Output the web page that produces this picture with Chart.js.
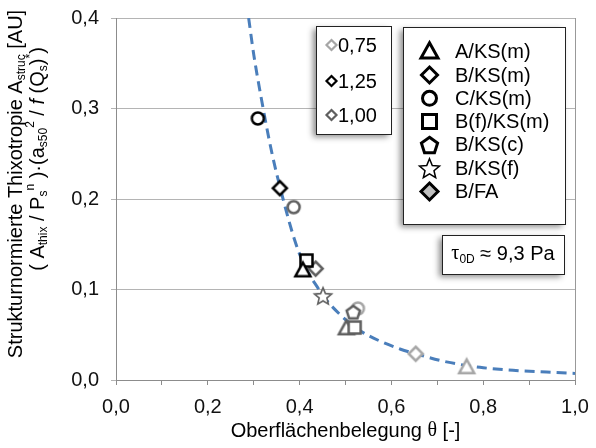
<!DOCTYPE html>
<html>
<head>
<meta charset="utf-8">
<script src="https://cdn.jsdelivr.net/npm/chart.js@4.4.0/dist/chart.umd.min.js"></script>
<style>
    html, body { margin: 0; padding: 0; background: #fff; }
</style>
</head>
<body>
<canvas id="chart" width="596" height="448"></canvas>
<script>
// series (colour = group in the small legend)
const seriesLabels = ['0,75', '1,25', '1,00'];
const seriesColors = ['#a6a6a6', '#000000', '#5f5f5f'];

const x075 = [0.527, 0.653, 0.764];
const y075 = [0.079, 0.029, 0.014];
const m075 = ['circle', 'diamond', 'triangle'];

const x125 = [0.309, 0.357, 0.415, 0.407];
const y125 = [0.289, 0.212, 0.132, 0.121];
const m125 = ['circle', 'diamond', 'square', 'triangle'];

const x100 = [0.387, 0.435, 0.451, 0.517, 0.502, 0.520];
const y100 = [0.191, 0.123, 0.093, 0.075, 0.057, 0.058];
const m100 = ['circle', 'diamond', 'star', 'pentagon', 'triangle', 'square'];

// dashed trend curve
const curveX = [0.289, 0.300, 0.317, 0.340, 0.364, 0.389, 0.410, 0.442, 0.451, 0.495, 0.530, 0.575, 0.620, 0.653, 0.720, 0.793, 0.865, 0.938, 1.000];
const curveY = [0.400, 0.360, 0.310, 0.250, 0.200, 0.155, 0.127, 0.100, 0.093, 0.069, 0.055, 0.043, 0.034, 0.029, 0.020, 0.014, 0.0107, 0.0088, 0.0072];

// shape legend
const shapeKeys = ['triangle', 'diamond', 'circle', 'square', 'pentagon', 'star', 'diamondFill'];
const shapeLabels = ['A/KS(m)', 'B/KS(m)', 'C/KS(m)', 'B(f)/KS(m)', 'B/KS(c)', 'B/KS(f)', 'B/FA'];

// texts with sub/superscripts
const yTitle1 = [['Strukturnormierte Thixotropie A'], ['struc', 'sub'], [' [AU]']];
const yTitle2 = [['( A'], ['thix', 'sub'], [' / P'], ['s', 'sub'], ['n', 'sup'], [' )·(a'], ['s50', 'sub'], ['2', 'sup'], [' / '], ['f', 'i'], [' (Q'], ['s', 'sub'], [')'], ['*', 'sup'], [')']];
const xTitle = [['Oberflächenbelegung '], ['θ', 'serif'], [' [-]']];
const tauText = [['τ', 'serif'], ['0D', 'sub'], [' ≈ 9,3 Pa']];

const FONT = 'Liberation Sans';
const FS = 20;

//marker shapes
function shapePath(g, shape, s) {
    const r = s / 2;
    g.beginPath();
    if (shape === 'circle') {
        g.arc(0, 0, r, 0, Math.PI * 2);
    } else if (shape === 'square') {
        g.rect(-r, -r, s, s);
    } else if (shape === 'triangle') {
        g.moveTo(0, -r * 1.05);
        g.lineTo(r, r * 0.75);
        g.lineTo(-r, r * 0.75);
        g.closePath();
    } else if (shape.startsWith('diamond')) {
        g.moveTo(0, -r); g.lineTo(r, 0); g.lineTo(0, r); g.lineTo(-r, 0);
        g.closePath();
    } else if (shape === 'pentagon') {
        for (let i = 0; i < 5; i++) {
            const a = -Math.PI / 2 + i * 2 * Math.PI / 5;
            g.lineTo(Math.cos(a) * r, Math.sin(a) * r + r * 0.1);
        }
        g.closePath();
    } else if (shape === 'star') {
        for (let i = 0; i < 10; i++) {
            const rr = i % 2 ? r * 0.45 : r;
            const a = -Math.PI / 2 + i * Math.PI / 5;
            g.lineTo(Math.cos(a) * rr, Math.sin(a) * rr + r * 0.1);
        }
        g.closePath();
    }
}

function paintShape(g, shape, size, color, lw, fill) {
    shapePath(g, shape, size);
    g.fillStyle = fill || '#fff';
    g.fill();
    g.lineWidth = lw;
    g.strokeStyle = color;
    g.lineJoin = 'miter';
    g.stroke();
}

const chartSize = { circle: 12, square: 12, triangle: 15, diamond: 14, pentagon: 14, star: 18 };

function marker(shape, color) {
    const size = chartSize[shape];
    const lw = shape === 'star' ? 1.6 : 2.5;
    const d = Math.ceil(size + lw + 4);
    const c = document.createElement('canvas');
    c.width = d; c.height = d;
    const g = c.getContext('2d');
    g.translate(d / 2, d / 2);
    paintShape(g, shape, size, color, lw);
    return c;
}

function pts(xs, ys) {
    return xs.map((x, i) => ({ x: x, y: ys[i] }));
}

// rich text helpers
function fontFor(p, size) {
    const m = p[1] || '';
    const fs = (m === 'sub' || m === 'sup') ? Math.round(size * 0.62) : size;
    const fam = m === 'serif' ? '"Liberation Serif"' : '"' + FONT + '"';
    return (m === 'i' ? 'italic ' : '') + fs + 'px ' + fam;
}

function drawRich(g, parts, x, y, size, align) {
    const widths = parts.map(p => { g.font = fontFor(p, size); return g.measureText(p[0]).width; });
    const total = widths.reduce((a, b) => a + b, 0);
    let cx = align === 'center' ? x - total / 2 : x;
    g.textAlign = 'left';
    g.textBaseline = 'middle';
    parts.forEach((p, i) => {
        g.font = fontFor(p, size);
        const dy = p[1] === 'sub' ? size * 0.3 : p[1] === 'sup' ? -size * 0.38 : 0;
        g.fillText(p[0], cx, y + dy);
        cx += widths[i];
    });
}

function shadowBox(g, x, y, w, h) {
    g.save();
    g.shadowColor = 'rgba(0,0,0,0.45)';
    g.shadowBlur = 6;
    g.shadowOffsetX = -3;
    g.shadowOffsetY = 3;
    g.fillStyle = '#fff';
    g.fillRect(x, y, w, h);
    g.restore();
    g.strokeStyle = '#222';
    g.lineWidth = 1;
    g.strokeRect(x + 0.5, y + 0.5, w, h);
}

const decor = {
    id: 'decor',
    afterDraw(chart) {
        const g = chart.ctx;
        const a = chart.chartArea;
        g.save();

        // right border of plot area
        g.strokeStyle = '#999';
        g.lineWidth = 1;
        g.beginPath();
        g.moveTo(a.right + 0.5, a.top);
        g.lineTo(a.right + 0.5, a.bottom);
        g.stroke();

        g.fillStyle = '#000';
        // axis titles
        drawRich(g, xTitle, (a.left + a.right) / 2, 431, FS, 'center');
        g.save();
        g.translate(16, 184);
        g.rotate(-Math.PI / 2);
        drawRich(g, yTitle1, 0, 0, FS, 'center');
        g.restore();
        g.save();
        g.translate(38, 159);
        g.rotate(-Math.PI / 2);
        drawRich(g, yTitle2, 0, 0, FS, 'center');
        g.restore();

        // legend of groups
        shadowBox(g, 316, 26, 75, 108);
        const ly1 = [45, 81, 115];
        seriesLabels.forEach((lab, i) => {
            g.save();
            g.translate(331.5, ly1[i]);
            paintShape(g, 'diamond', 10, seriesColors[i], 2.2);
            g.restore();
            g.fillStyle = '#000';
            g.font = FS + 'px "' + FONT + '"';
            g.textAlign = 'left';
            g.textBaseline = 'middle';
            g.fillText(lab, 338, ly1[i] + 1);
        });

        // legend of shapes
        shadowBox(g, 403, 27, 162, 197);
        const legSize = { triangle: 17, diamond: 16, circle: 14, square: 14, pentagon: 17, star: 21, diamondFill: 17 };
        shapeKeys.forEach((k, i) => {
            const yy = 51.7 + i * 23.3;
            g.save();
            g.translate(429.5, yy);
            paintShape(g, k, legSize[k], '#000', k === 'star' ? 1.5 : 3, k === 'diamondFill' ? '#bfbfbf' : '#fff');
            g.restore();
            g.fillStyle = '#000';
            g.font = FS + 'px "' + FONT + '"';
            g.textAlign = 'left';
            g.textBaseline = 'middle';
            g.fillText(shapeLabels[i], 455, yy + 1);
        });

        // tau box
        shadowBox(g, 442, 235, 122, 39);
        g.fillStyle = '#000';
        drawRich(g, tauText, 503, 254, FS, 'center');

        g.restore();
    }
};

const ctx = document.getElementById('chart').getContext('2d');
const chart = new Chart(ctx, {
    type: 'scatter',
    data: {
        datasets: [{
            label: seriesLabels[1],
            data: pts(x125, y125),
            pointStyle: m125.map(m => marker(m, seriesColors[1])),
            pointRadius: 7,
            order: 1
        }, {
            label: seriesLabels[2],
            data: pts(x100, y100),
            pointStyle: m100.map(m => marker(m, seriesColors[2])),
            pointRadius: 7,
            order: 2
        }, {
            label: seriesLabels[0],
            data: pts(x075, y075),
            pointStyle: m075.map(m => marker(m, seriesColors[0])),
            pointRadius: 7,
            order: 3
        }, {
            type: 'line',
            label: 'Trend',
            data: pts(curveX, curveY),
            borderColor: '#4a7ebb',
            borderWidth: 3,
            borderDash: [10, 6],
            pointRadius: 0,
            fill: false,
            cubicInterpolationMode: 'monotone',
            order: 4
        }]
    },
    options: {
        responsive: false,
        animation: false,
        events: [],
        layout: { padding: { top: 18, right: 21, left: 0, bottom: 0 } },
        plugins: {
            legend: { display: false },
            tooltip: { enabled: false }
        },
        scales: {
            x: {
                type: 'linear',
                min: 0,
                max: 1,
                ticks: {
                    stepSize: 0.1,
                    autoSkip: false,
                    maxRotation: 0,
                    padding: 10,
                    color: '#111',
                    font: { family: FONT, size: FS },
                    callback: v => (Math.round(v * 10) % 2 === 0) ? v.toFixed(1).replace('.', ',') : ''
                },
                grid: { drawOnChartArea: false, drawTicks: true, tickLength: 5, color: '#8c8c8c' },
                border: { color: '#8c8c8c' },
                afterFit: s => {
                    s.height = 68;
                    s.paddingLeft = 0;
                    s.paddingRight = 0;
                }
            },
            y: {
                min: 0,
                max: 0.4,
                ticks: {
                    stepSize: 0.1,
                    padding: 12,
                    color: '#111',
                    font: { family: FONT, size: FS },
                    callback: v => v.toFixed(1).replace('.', ',')
                },
                grid: { color: '#b4b4b4', tickLength: 5 },
                border: { color: '#8c8c8c' },
                afterFit: s => {
                    s.width = 116;
                    s.paddingTop = 0;
                    s.paddingBottom = 0;
                }
            }
        }
    },
    plugins: [decor]
});
</script>
</body>
</html>
